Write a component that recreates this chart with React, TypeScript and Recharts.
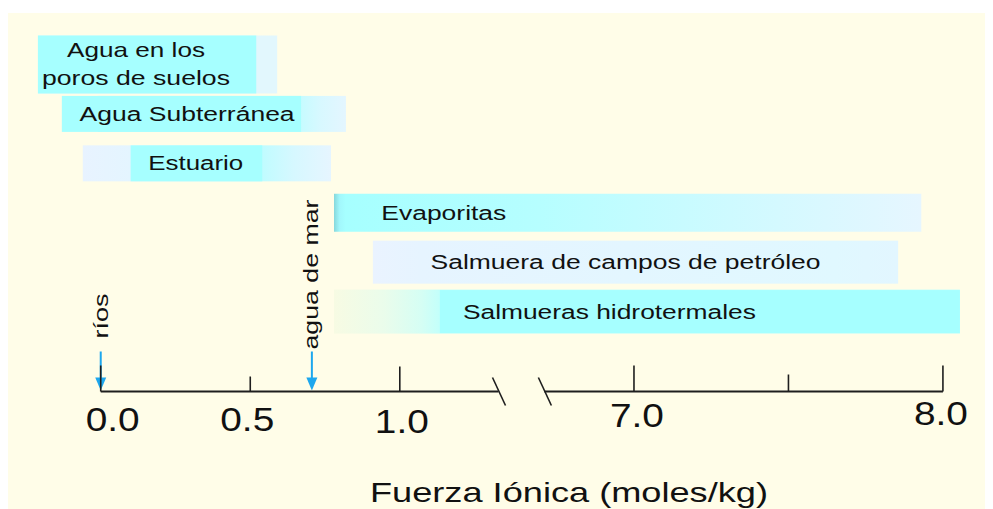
import React from 'react';
import { BarChart, Bar, ComposedChart, Scatter, XAxis, YAxis, ReferenceLine } from 'recharts';

// ---------- data ----------
const categories = [
  'Agua en los poros de suelos',
  'Agua Subterránea',
  'Estuario',
  'Evaporitas',
  'Salmuera de campos de petróleo',
  'Salmueras hidrotermales',
];
const labelLines = [
  ['Agua en los', 'poros de suelos'],
  ['Agua Subterránea'],
  ['Estuario'],
  ['Evaporitas'],
  ['Salmuera de campos de petróleo'],
  ['Salmueras hidrotermales'],
];
// faded (outer) range, moles/kg
const rangeStart = [-0.21, -0.01, -0.06, 0.78, 0.91, 0.78];
const rangeEnd = [0.59, 0.82, 0.77, 7.93, 7.855, 8.055];
// saturated (core) range, moles/kg
const coreStart: (number | null)[] = [-0.21, -0.13, 0.1, null, 1.067, 1.134];
const coreEnd: (number | null)[] = [0.52, 0.67, 0.54, null, 7.64, 8.055];

const tickValues = [0, 0.5, 1.0, 7.0, 7.5, 8.0];
const tickLabels = ['0.0', '0.5', '1.0', '7.0', '', '8.0'];
const axisSegments = [
  [0, 1.33],
  [6.71, 8.0],
];
const markerNames = ['ríos', 'agua de mar'];
const markerValues = [0, 0.706];
const axisTitle = 'Fuerza Iónica (moles/kg)';

// ---------- broken axis transform ----------
const RIGHT_ORIGIN = 1.783;
const RIGHT_SCALE = 1.033;
const toAxis = (v: number) => (v < 4 ? v : RIGHT_ORIGIN + (v - 7) * RIGHT_SCALE);
const DOMAIN: [number, number] = [-0.3, 2.95];

const rows = categories.map((name, i) => ({
  name,
  light: [toAxis(rangeStart[i]), toAxis(rangeEnd[i])],
  core:
    coreStart[i] == null ? null : [toAxis(coreStart[i] as number), toAxis(coreEnd[i] as number)],
}));
const markerRows = markerValues.map((v, i) => ({ u: toAxis(v), y: 0, name: markerNames[i] }));
const breakRows = [
  { u: toAxis(axisSegments[0][1]), y: 0 },
  { u: toAxis(axisSegments[1][0]), y: 0 },
];

// ---------- styles ----------
const W = 985;
const H = 496;
const MARGIN = { top: 26.5, right: 10, left: 3 };
const XAXIS_H = 117.5;
const FONT = '"Liberation Sans", Arial, sans-serif';
const BG = '#FFFDE8';
const CYAN = '#A6FFFF';
const ARROW = '#1DA7EE';
const AXIS = '#1E1E1E';
const ROW_THICK = [58, 36, 36, 38, 43, 44];
const CORE_FILL = [CYAN, CYAN, CYAN, null, CYAN, 'url(#core5)'];
const LABEL_FRAC = [0.41, 0.36, 0.455, 0.187, 0.481, 0.44];
const LABEL_LEN = [[138, 188], [215], [95], [125], [390], [293]];
const TICK_LEN = [26, 15, 25, 26, 17, 26];
const TICK_DX = [12, -3, 2, 3, 0, -2];
const TICK_DY = [39, 39, 41, 35.5, 0, 33.5];
const MARKER_DY = [-53, -42];
const MARKER_DX = [7, 6];
const MARKER_LEN = [45, 150];

const LightShape = (props: any) => {
  const { x, y, width, height, index } = props;
  if (!width || width <= 0) return null;
  const cy = y + height / 2;
  const h = ROW_THICK[index];
  return <rect x={x} y={cy - h / 2} width={width} height={h} fill={`url(#light${index})`} />;
};

const CoreShape = (props: any) => {
  const { x, y, width, height, index } = props;
  const fill = CORE_FILL[index];
  if (!fill || !width || width <= 0 || rows[index].core == null) return null;
  const cy = y + height / 2;
  const h = ROW_THICK[index];
  return <rect x={x} y={cy - h / 2} width={width} height={h} fill={fill} />;
};

const LabelShape = (props: any) => {
  const { x, y, width, height, index } = props;
  const lines = labelLines[index];
  const cx = x + width * LABEL_FRAC[index];
  const cy = y + height / 2;
  const lh = 28;
  const first = cy + 7 - ((lines.length - 1) * lh) / 2 - (lines.length > 1 ? 1 : 0);
  return (
    <g>
      {lines.map((t, k) => (
        <text
          key={k}
          x={cx}
          y={first + k * lh}
          textAnchor="middle"
          fontFamily={FONT}
          fontSize={lines.length > 1 ? 21 : 20}
          fill="#111"
          textLength={LABEL_LEN[index][k]}
          lengthAdjust="spacingAndGlyphs"
        >
          {t}
        </text>
      ))}
    </g>
  );
};

const AxisTick = (props: any) => {
  const { x, y, index } = props;
  const label = tickLabels[index];
  return (
    <g>
      <line x1={x} y1={y} x2={x} y2={y - TICK_LEN[index]} stroke={AXIS} strokeWidth={1.6} />
      {label ? (
        <text
          x={x + TICK_DX[index]}
          y={y + TICK_DY[index]}
          textAnchor="middle"
          fontFamily={FONT}
          fontSize={33}
          fill="#111"
          textLength={54}
          lengthAdjust="spacingAndGlyphs"
        >
          {label}
        </text>
      ) : null}
    </g>
  );
};

const AxisTitle = (props: any) => {
  const vb = props.viewBox || { x: 0, y: 0 };
  return (
    <text
      x={vb.x + 558}
      y={vb.y + 110.5}
      textAnchor="middle"
      fontFamily={FONT}
      fontSize={28}
      fill="#111"
      textLength={398}
      lengthAdjust="spacingAndGlyphs"
    >
      {axisTitle}
    </text>
  );
};

const MarkerShape = (props: any) => {
  const { cx, cy, index } = props;
  const i = index ?? 0;
  const tx = cx + MARKER_DX[i];
  const ty = cy + MARKER_DY[i];
  return (
    <g>
      <line x1={cx} y1={cy - 40} x2={cx} y2={cy - 12} stroke={ARROW} strokeWidth={2} />
      <polygon points={`${cx - 5.5},${cy - 14} ${cx + 5.5},${cy - 14} ${cx},${cy - 1}`} fill={ARROW} />
      <text
        x={tx}
        y={ty}
        transform={`rotate(-90 ${tx} ${ty})`}
        textAnchor="start"
        fontFamily={FONT}
        fontSize={21}
        fill="#111"
        textLength={MARKER_LEN[i]}
        lengthAdjust="spacingAndGlyphs"
      >
        {markerNames[i]}
      </text>
    </g>
  );
};

const BreakMark = (props: any) => {
  const { cx, cy } = props;
  return <line x1={cx - 6} y1={cy - 14} x2={cx + 7} y2={cy + 14} stroke={AXIS} strokeWidth={1.6} />;
};

export default function App() {
  return (
    <div style={{ width: W, height: H + 5, paddingTop: 5, boxSizing: 'border-box', background: '#fff' }}>
      <div style={{ position: 'relative', width: W, height: H, background: BG }}>
        <div style={{ position: 'absolute', left: 0, top: 0 }}>
          <BarChart
            width={W}
            height={H}
            data={rows}
            layout="vertical"
            margin={{ ...MARGIN, bottom: XAXIS_H }}
            barGap={-40}
          >
            <defs>
              <linearGradient id="light0" x1="0" y1="0" x2="1" y2="0">
                <stop offset="0" stopColor="#E2F7FD" />
                <stop offset="1" stopColor="#E2F7FD" />
              </linearGradient>
              <linearGradient id="light1" x1="0" y1="0" x2="1" y2="0">
                <stop offset="0" stopColor="#B0FEFF" />
                <stop offset="0.8" stopColor="#C2FCFF" />
                <stop offset="0.9" stopColor="#D8F8FF" />
                <stop offset="1" stopColor="#E4F6FF" />
              </linearGradient>
              <linearGradient id="light2" x1="0" y1="0" x2="1" y2="0">
                <stop offset="0" stopColor="#E8F3FF" />
                <stop offset="0.19" stopColor="#E4F5FF" />
                <stop offset="0.72" stopColor="#BFFCFF" />
                <stop offset="0.85" stopColor="#D6F8FF" />
                <stop offset="1" stopColor="#E6F5FF" />
              </linearGradient>
              <linearGradient id="light3" x1="0" y1="0" x2="1" y2="0">
                <stop offset="0" stopColor="#86D8DC" />
                <stop offset="0.01" stopColor="#A2F8FC" />
                <stop offset="0.02" stopColor="#A6FFFF" />
                <stop offset="0.35" stopColor="#B6FEFF" />
                <stop offset="1" stopColor="#E6F6FF" />
              </linearGradient>
              <linearGradient id="light4" x1="0" y1="0" x2="1" y2="0">
                <stop offset="0" stopColor="#EAF3FF" />
                <stop offset="0.09" stopColor="#E6F4FF" />
                <stop offset="0.88" stopColor="#E0F8FF" />
                <stop offset="1" stopColor="#E2F6FF" />
              </linearGradient>
              <linearGradient id="light5" x1="0" y1="0" x2="1" y2="0">
                <stop offset="0" stopColor="#F7FBE3" />
                <stop offset="0.08" stopColor="#EAFCEB" />
                <stop offset="0.14" stopColor="#D5FEF4" />
                <stop offset="0.17" stopColor="#C2FFFB" />
                <stop offset="1" stopColor="#C2FFFB" />
              </linearGradient>
              <linearGradient id="core5" x1="0" y1="0" x2="1" y2="0">
                <stop offset="0" stopColor="#A6FFFF" />
                <stop offset="0.9" stopColor="#A8FFFF" />
                <stop offset="0.96" stopColor="#C4FBFF" />
                <stop offset="1" stopColor="#B2FDFF" />
              </linearGradient>
            </defs>
            <XAxis type="number" domain={DOMAIN} allowDataOverflow hide />
            <YAxis
              type="category"
              dataKey="name"
              hide
              width={0}
              padding={{ top: 0, bottom: 55.5 }}
            />
            <Bar dataKey="light" barSize={40} shape={<LightShape />} isAnimationActive={false} />
            <Bar dataKey="core" barSize={40} shape={<CoreShape />} isAnimationActive={false} />
            <Bar dataKey="light" barSize={40} shape={<LabelShape />} isAnimationActive={false} />
          </BarChart>
        </div>
        <div style={{ position: 'absolute', left: 0, top: 0 }}>
          <ComposedChart width={W} height={H} margin={{ ...MARGIN, bottom: 0 }}>
            <XAxis
              type="number"
              dataKey="u"
              domain={DOMAIN}
              ticks={tickValues.map(toAxis)}
              interval={0}
              tick={<AxisTick />}
              axisLine={false}
              tickLine={false}
              tickSize={0}
              tickMargin={0}
              height={XAXIS_H}
              label={<AxisTitle />}
            />
            <YAxis type="number" dataKey="y" domain={[0, 1]} hide width={0} />
            {axisSegments.map((s, i) => (
              <ReferenceLine
                key={`seg${i}`}
                segment={[
                  { x: toAxis(s[0]), y: 0 },
                  { x: toAxis(s[1]), y: 0 },
                ]}
                stroke={AXIS}
                strokeWidth={2.2}
              />
            ))}
            <Scatter data={breakRows} shape={<BreakMark />} isAnimationActive={false} />
            <Scatter data={markerRows} shape={<MarkerShape />} isAnimationActive={false} />
          </ComposedChart>
        </div>
      </div>
    </div>
  );
}
